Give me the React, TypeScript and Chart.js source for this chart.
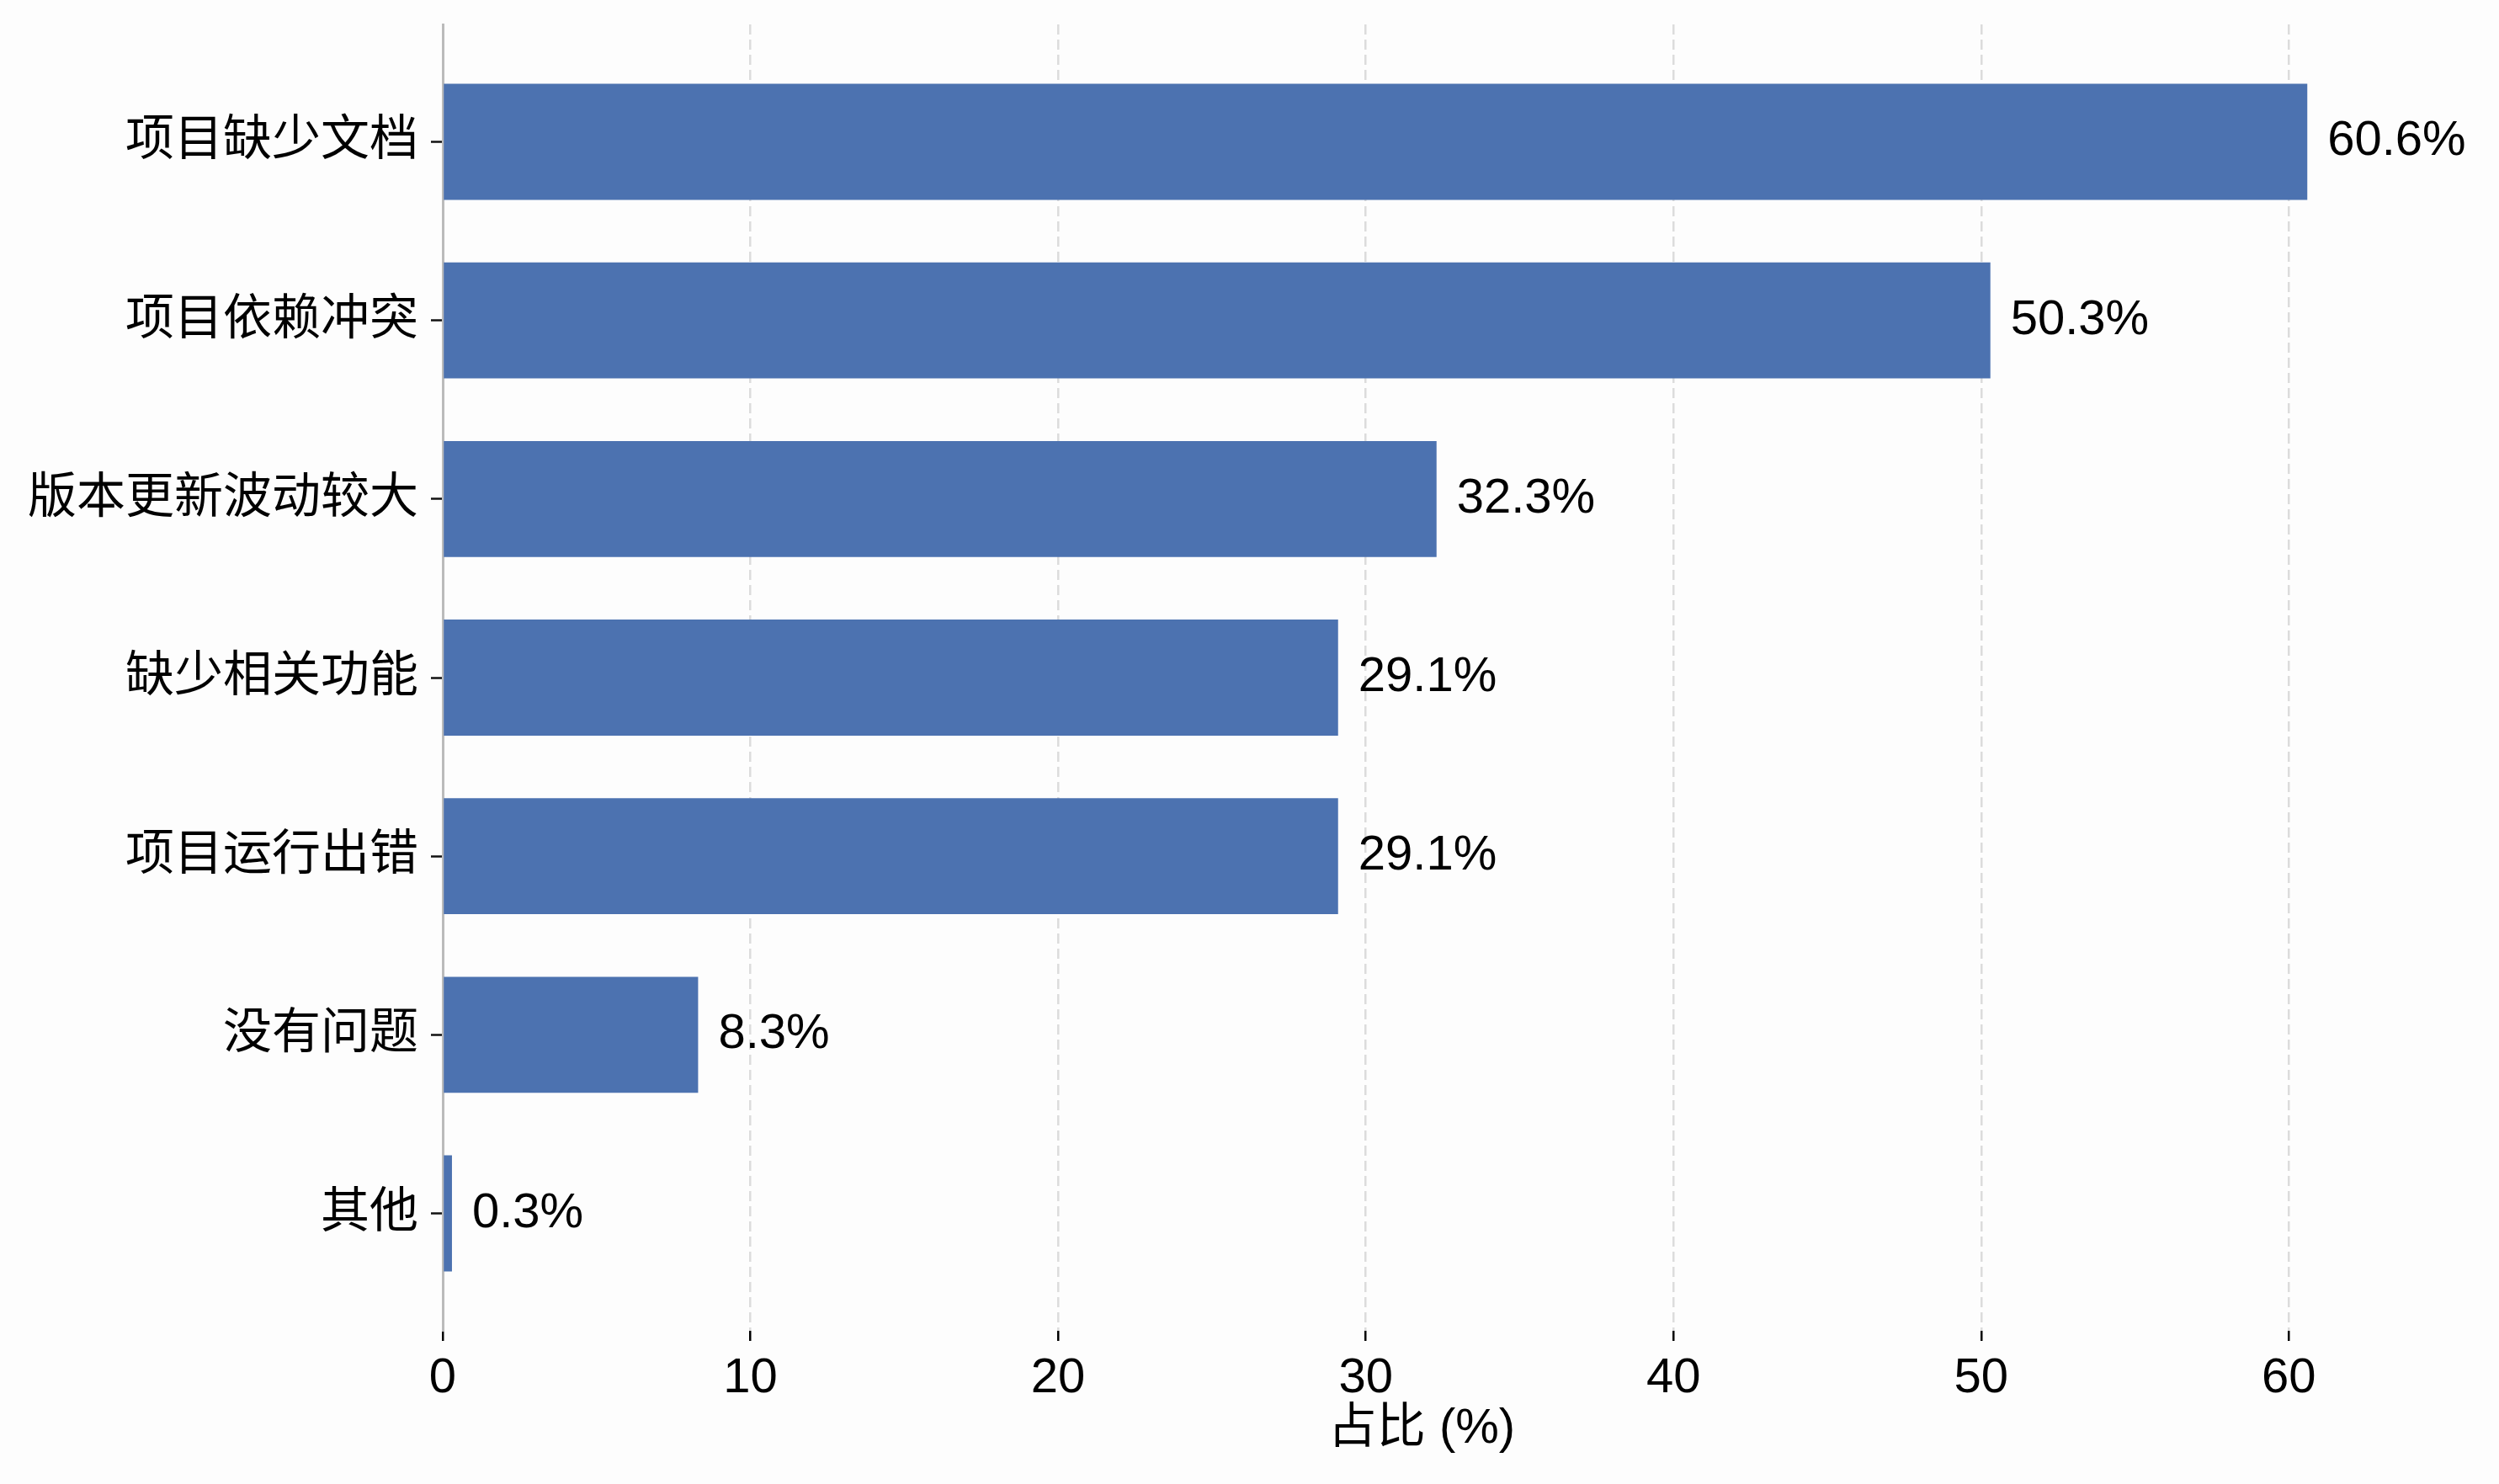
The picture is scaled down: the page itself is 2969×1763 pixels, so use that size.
import React, { useEffect, useRef } from 'react';
import { Chart, registerables } from 'chart.js';

Chart.register(...registerables);

const categories = ['项目缺少文档', '项目依赖冲突', '版本更新波动较大', '缺少相关功能', '项目运行出错', '没有问题', '其他'];
const shares = [60.6, 50.3, 32.3, 29.1, 29.1, 8.3, 0.3];
const xTicks = [0, 10, 20, 30, 40, 50, 60];
const xAxisTitle = '占比 (%)';
const xMax = 63.63;
const yMin = -0.6575;
const yMax = 6.6575;

const FONT = "'Liberation Sans', 'Noto Sans CJK SC', sans-serif";
const FONT_SIZE = 58;
const W = 2969;
const H = 1763;

const background = {
  id: 'background',
  beforeDraw(chart: any) {
    const ctx = chart.ctx;
    ctx.save();
    ctx.fillStyle = '#fdfdfd';
    ctx.fillRect(0, 0, chart.width, chart.height);
    ctx.restore();
  },
};

const valueLabels = {
  id: 'valueLabels',
  afterDatasetsDraw(chart: any) {
    const ctx = chart.ctx;
    const meta = chart.getDatasetMeta(0);
    ctx.save();
    ctx.font = `${FONT_SIZE}px ${FONT}`;
    ctx.fillStyle = '#000';
    ctx.textAlign = 'left';
    ctx.textBaseline = 'middle';
    meta.data.forEach((bar: any, i: number) => {
      ctx.fillText(`${shares[i].toFixed(1)}%`, bar.x + 24, bar.y);
    });
    ctx.restore();
  },
};

export default function App() {
  const ref = useRef<HTMLCanvasElement>(null);
  useEffect(() => {
    document.body.style.margin = '0';
    const canvas = ref.current!;
    const chart = new Chart(canvas, {
      type: 'bar',
      data: {
        datasets: [
          {
            data: shares.map((v, i) => ({ x: v, y: i })),
            backgroundColor: '#4c72b0',
            borderWidth: 0,
            barPercentage: 0.65,
            categoryPercentage: 1,
          },
        ],
      },
      options: {
        indexAxis: 'y',
        responsive: false,
        animation: false,
        devicePixelRatio: 1,
        layout: { padding: { left: 0, top: 29, right: W - 2852, bottom: 0 } },
        plugins: { legend: { display: false }, tooltip: { enabled: false } },
        color: '#000',
        scales: {
          x: {
            type: 'linear',
            position: 'bottom',
            min: 0,
            max: xMax,
            afterBuildTicks: (scale: any) => {
              scale.ticks = xTicks.map((v) => ({ value: v }));
            },
            afterFit: (scale: any) => {
              scale.height = H - 1581;
              scale.paddingLeft = 0;
              scale.paddingRight = 0;
            },
            ticks: {
              color: '#000',
              font: { family: FONT, size: FONT_SIZE },
              padding: 10,
              maxRotation: 0,
            },
            grid: {
              color: '#dcdcdc',
              lineWidth: 2.5,
              drawTicks: true,
              tickLength: 12,
              tickColor: '#000',
              tickWidth: 2.5,
              tickBorderDash: [],
            } as any,
            border: { display: false, dash: [12, 6] },
            title: {
              display: true,
              text: xAxisTitle,
              color: '#000',
              font: { family: FONT, size: FONT_SIZE },
              padding: { top: 0, bottom: 30 },
            },
          },
          y: {
            type: 'linear',
            reverse: true,
            offset: false,
            min: yMin,
            max: yMax,
            afterBuildTicks: (scale: any) => {
              scale.ticks = categories.map((_, i) => ({ value: i }));
            },
            afterFit: (scale: any) => {
              scale.width = 526;
              scale.paddingTop = 0;
              scale.paddingBottom = 0;
            },
            ticks: {
              color: '#000',
              font: { family: FONT, size: FONT_SIZE },
              padding: 15,
              callback: (v: any) => categories[v as number] ?? '',
            },
            grid: {
              offset: false,
              drawOnChartArea: false,
              drawTicks: true,
              tickLength: 14,
              tickColor: '#111',
              tickWidth: 2.5,
              color: '#bbbbbb',
            },
            border: { display: true, color: '#bbbbbb', width: 3 },
          },
        },
      },
      plugins: [background, valueLabels],
    });
    return () => chart.destroy();
  }, []);
  return (
    <div style={{ position: 'fixed', left: 0, top: 0, width: W, height: H }}>
      <canvas ref={ref} width={W} height={H} style={{ width: W, height: H, display: 'block' }} />
    </div>
  );
}
